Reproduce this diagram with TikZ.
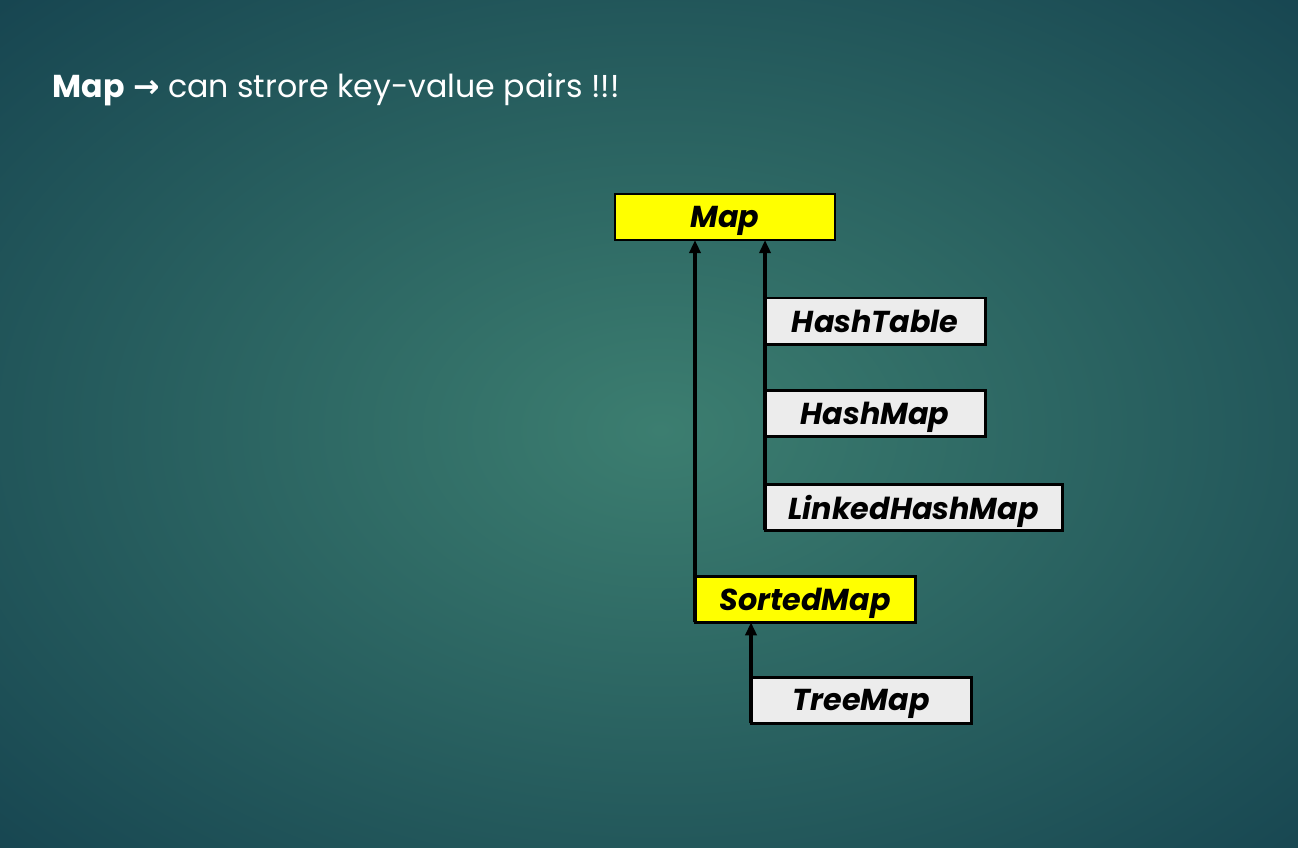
\documentclass[tikz,border=0pt]{standalone}
\usepackage{fontspec}
\setmainfont{Poppins}
\newfontfamily\arrowfont{DejaVu Sans}
\usetikzlibrary{positioning,arrows.meta}

\begin{document}
\begin{tikzpicture}[x=0.01cm, y=-0.01cm]

  \definecolor{my_teal_dark}{RGB}{22,68,80}
  \definecolor{my_teal_light}{RGB}{60,126,112}
  \definecolor{my_yellow}{RGB}{255,255,0}
  \definecolor{my_gray_light}{RGB}{236,236,236}

  \tikzstyle{block} = [rectangle, draw=black, line width=0.8pt, outer sep=0pt, minimum width=2.2cm, minimum height=0.46cm, inner sep=0pt, text depth=0pt, font=\fontsize{8.6}{10}\selectfont\bfseries\itshape]
  \tikzstyle{iface} = [block, fill=my_yellow]
  \tikzstyle{impl} = [block, fill=my_gray_light]
  \tikzstyle{line} = [draw, line width=1.2pt, -{Triangle[length=0.13cm, width=0.11cm]}]

%	\tikzstyle{every node}=[font=\sffamily]

  % background
  \useasboundingbox (0,0) rectangle (1298,847);
  \begin{scope}
    \clip (0,0) rectangle (1298,847);
    \shade [inner color=my_teal_light, outer color=my_teal_dark] (-290,-200) rectangle (1610,1060);
  \end{scope}

  \node [anchor=base west, inner sep=0pt, text=white, font=\fontsize{9}{11}\selectfont] (title) at (52,97) {\textbf{Map} {\arrowfont\bfseries →} can strore key-value pairs !!!};

  \node [iface] (map) at (725,217) {Map};
  \node [impl, anchor=north west] (hashtable) at ([xshift=0.4cm, yshift=-0.58cm]map.south) {HashTable};
  \node [impl, below=0.46cm of hashtable] (hashmap) {HashMap};
  \node [impl, minimum width=2.97cm, below right=0.48cm and 0cm of hashmap.south west] (linkedhashmap) {LinkedHashMap};
  \node [iface, anchor=north west] (sortedmap) at ([xshift=-0.7cm, yshift=-0.46cm]linkedhashmap.south west) {SortedMap};
  \node [impl, below right=0.55cm and 0.56cm of sortedmap.south west] (treemap) {TreeMap};

  \path [line] (linkedhashmap.south west) -- (linkedhashmap.south west |- map.south);
  \path [line] (sortedmap.south west) -- (sortedmap.south west |- map.south);
  \path [line] (treemap.south west) -- (treemap.south west |- sortedmap.south);

\end{tikzpicture}
\end{document}
